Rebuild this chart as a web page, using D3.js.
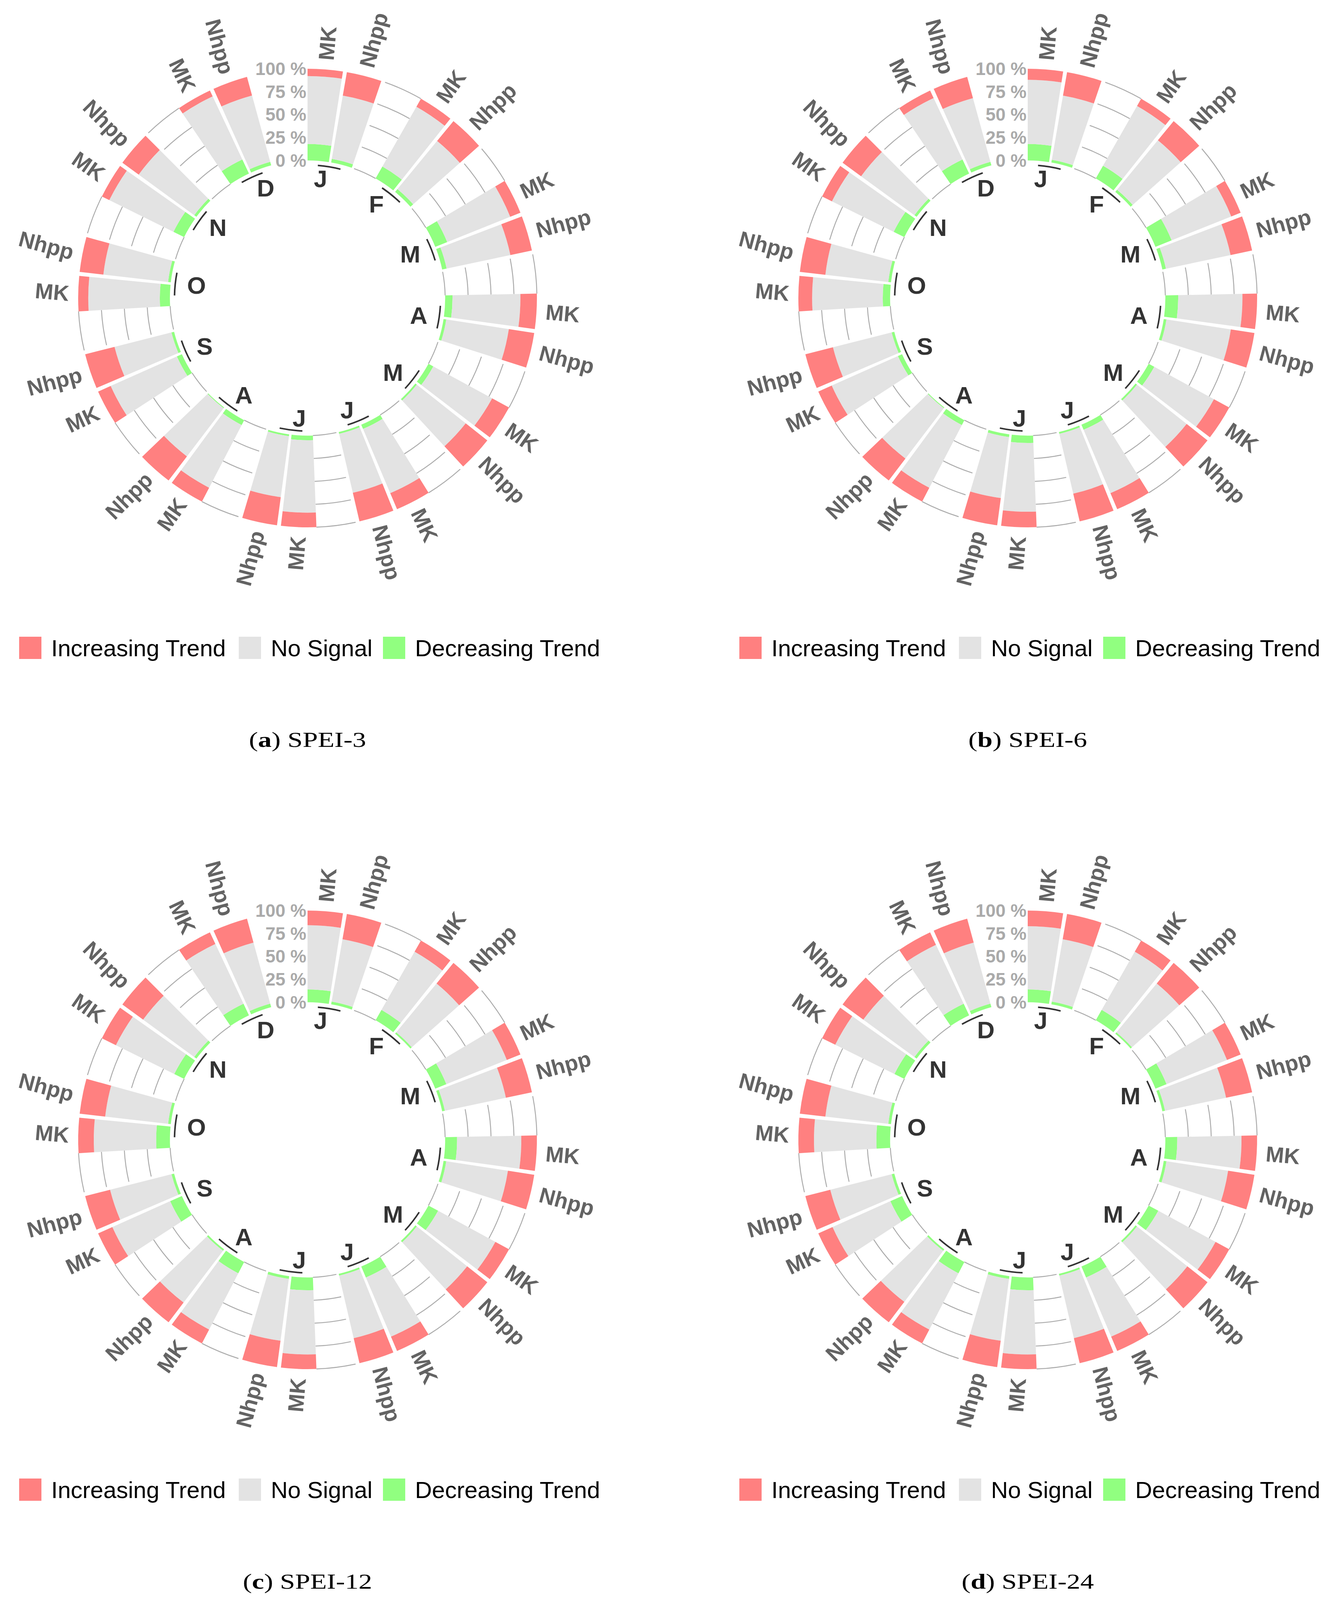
<!DOCTYPE html>
<html>
<head>
<meta charset="utf-8">
<script src="https://cdn.jsdelivr.net/npm/d3@7/dist/d3.min.js"></script>
<style>
  body { margin: 0; background: #fff; }
  svg { display: block; }
</style>
</head>
<body>
<svg id="fig" width="3424" height="4112"></svg>
<script>
"use strict";

// ---- data ----
var months = ["J", "F", "M", "A", "M", "J", "J", "A", "S", "O", "N", "D"];
var methods = ["MK", "Nhpp"];
var trendNames = ["Increasing Trend", "No Signal", "Decreasing Trend"];
var trendColors = ["#ff8080", "#e3e3e3", "#91ff80"];
var gridTicks = [0, 25, 50, 75, 100];
var panelLetters = ["a", "b", "c", "d"];
var panelTitles = ["SPEI-3", "SPEI-6", "SPEI-12", "SPEI-24"];

// % of stations, per month: MK, Nhpp
var spei3Dec  = [18, 4, 15, 4, 14, 5, 8, 3, 6, 2, 5, 2, 5, 2, 6, 1, 6, 3, 11, 3, 13, 3, 17, 4];
var spei3Inc  = [8, 26, 10, 28, 12, 24, 18, 28, 21, 30, 19, 32, 16, 31, 17, 33, 15, 33, 11, 26, 9, 22, 7, 21];
var spei6Dec  = [18, 3, 16, 3, 19, 4, 14, 3, 7, 2, 6, 2, 8, 3, 6, 1, 5, 3, 8, 3, 13, 3, 17, 4];
var spei6Inc  = [12, 26, 9, 27, 11, 24, 16, 26, 19, 29, 19, 31, 17, 30, 17, 30, 16, 31, 15, 28, 12, 25, 9, 24];
var spei12Dec = [14, 3, 13, 2, 13, 3, 13, 3, 12, 2, 13, 2, 14, 3, 14, 2, 14, 3, 15, 3, 12, 3, 14, 4];
var spei12Inc = [16, 28, 14, 29, 16, 29, 17, 29, 17, 28, 17, 28, 16, 29, 17, 27, 17, 28, 17, 28, 17, 28, 14, 27];
var spei24Dec = [14, 3, 13, 2, 13, 3, 13, 3, 12, 2, 13, 2, 14, 3, 14, 2, 14, 3, 15, 3, 12, 3, 14, 4];
var spei24Inc = [17, 28, 14, 29, 16, 29, 17, 29, 17, 28, 17, 28, 16, 29, 17, 28, 17, 28, 17, 28, 16, 28, 15, 27];

var panelDec = [spei3Dec, spei6Dec, spei12Dec, spei24Dec];
var panelInc = [spei3Inc, spei6Inc, spei12Inc, spei24Inc];

// ---- layout ----
var centers = [[787, 763], [2630, 763], [787, 2918], [2630, 2918]];
var nBar = 36;   // 12 months x (2 bars + 1 empty slot)

var theta = d3.scaleLinear().domain([0.55, 37]).range([0, 2 * Math.PI]);
var radius = d3.scaleLinear().domain([-150, 100]).range([0, 587]);

var svg = d3.select("#fig");
svg.append("rect").attr("width", 3424).attr("height", 4112).attr("fill", "#fff");

function arcLine(r, a0, a1) {
    var p = d3.path();
    p.moveTo(r * Math.sin(a0), -r * Math.cos(a0));
    p.arc(0, 0, r, a0 - Math.PI / 2, a1 - Math.PI / 2);
    return p.toString();
}
function polar(a, r) { return [r * Math.sin(a), -r * Math.cos(a)]; }

var stack = d3.stack().keys(["dec", "none", "inc"]);
var stackColor = { dec: trendColors[2], none: trendColors[1], inc: trendColors[0] };

panelLetters.forEach(function (letter, p) {
    var rows = [];
    months.forEach(function (m, i) {
        methods.forEach(function (meth, j) {
            var k = 2 * i + j;
            rows.push({
                id: 3 * i + j + 1, month: i, method: meth,
                dec: panelDec[p][k], inc: panelInc[p][k],
                none: 100 - panelDec[p][k] - panelInc[p][k]
            });
        });
    });
    var gaps = d3.range(1, 12).map(function (i) { return 3 * i; });

    var g = svg.append("g")
        .attr("transform", "translate(" + centers[p][0] + "," + centers[p][1] + ")");

    // grid arcs in the gaps between months
    var grid = g.append("g").attr("fill", "none").attr("stroke", "#ababab").attr("stroke-width", 2.4);
    gaps.forEach(function (gid) {
        grid.selectAll(null).data(gridTicks).enter().append("path")
            .attr("d", function (t) { return arcLine(radius(t), theta(gid - 0.45), theta(gid + 0.55)); });
    });

    // stacked bars
    var arc = d3.arc()
        .innerRadius(function (d) { return radius(d[0]); })
        .outerRadius(function (d) { return radius(d[1]); })
        .startAngle(function (d) { return theta(d.data.id - 0.45); })
        .endAngle(function (d) { return theta(d.data.id + 0.45); });

    g.append("g").selectAll("g").data(stack(rows)).enter().append("g")
        .attr("fill", function (s) { return stackColor[s.key]; })
        .selectAll("path").data(function (s) { return s; }).enter().append("path")
        .attr("d", arc);

    // y-axis labels
    g.append("g").selectAll("text").data(gridTicks).enter().append("text")
        .attr("x", -3)
        .attr("y", function (t) { return -radius(t); })
        .attr("text-anchor", "end")
        .attr("dominant-baseline", "central")
        .attr("font-family", "'Liberation Sans', Arial, sans-serif")
        .attr("font-weight", "bold")
        .attr("font-size", 46)
        .attr("fill", "#aaaaaa")
        .text(function (t) { return t + " %"; });

    // bar labels
    g.append("g").selectAll("text").data(rows).enter().append("text")
        .each(function (d) {
            var ang = 90 - 360 * (d.id - 0.5) / nBar;
            var flip = ang < -90;
            if (flip) ang += 180;
            var xy = polar(theta(d.id), radius(110));
            d3.select(this)
                .attr("transform", "translate(" + xy[0] + "," + xy[1] + ") rotate(" + (-ang) + ")")
                .attr("text-anchor", flip ? "end" : "start");
        })
        .attr("dominant-baseline", "central")
        .attr("font-family", "'Liberation Sans', Arial, sans-serif")
        .attr("font-weight", "bold")
        .attr("font-size", 56)
        .attr("fill", "#636363")
        .text(function (d) { return d.method; });

    // month base lines and letters
    var base = months.map(function (m, i) {
        return { name: m, start: 3 * i + 1, end: 3 * i + 2, title: 3 * i + 1.5, i: i };
    });
    g.append("g").selectAll("path").data(base).enter().append("path")
        .attr("d", function (d) { return arcLine(radius(-5), theta(d.start), theta(d.end)); })
        .attr("fill", "none").attr("stroke", "#333").attr("stroke-width", 4);

    g.append("g").selectAll("text").data(base).enter().append("text")
        .attr("x", function (d) { return polar(theta(d.title), radius(-18))[0]; })
        .attr("y", function (d) { return polar(theta(d.title), radius(-18))[1]; })
        .attr("text-anchor", function (d) { return d.i < 6 ? "end" : "start"; })
        .attr("dominant-baseline", "central")
        .attr("font-family", "'Liberation Sans', Arial, sans-serif")
        .attr("font-weight", "bold")
        .attr("font-size", 62)
        .attr("fill", "#333333")
        .text(function (d) { return d.name; });

    // legend
    var legX = [-738, -176, 193];
    var leg = g.append("g").attr("transform", "translate(0,867)");
    var item = leg.selectAll("g").data(trendNames).enter().append("g")
        .attr("transform", function (d, i) { return "translate(" + legX[i] + ",0)"; });
    item.append("rect").attr("width", 57).attr("height", 57)
        .attr("fill", function (d, i) { return trendColors[i]; });
    item.append("text").attr("x", 82).attr("y", 50)
        .attr("font-family", "'Liberation Sans', Arial, sans-serif")
        .attr("font-size", 60)
        .attr("fill", "#000")
        .text(function (d) { return d; });

    // caption
    var cap = g.append("text")
        .attr("transform", "translate(0,1149) scale(1.29,1)")
        .attr("text-anchor", "middle")
        .attr("font-family", "'Liberation Serif', 'Times New Roman', serif")
        .attr("font-size", 54)
        .attr("fill", "#000");
    cap.append("tspan").text("(");
    cap.append("tspan").attr("font-weight", "bold").text(letter);
    cap.append("tspan").text(") " + panelTitles[p]);
});
</script>
</body>
</html>
